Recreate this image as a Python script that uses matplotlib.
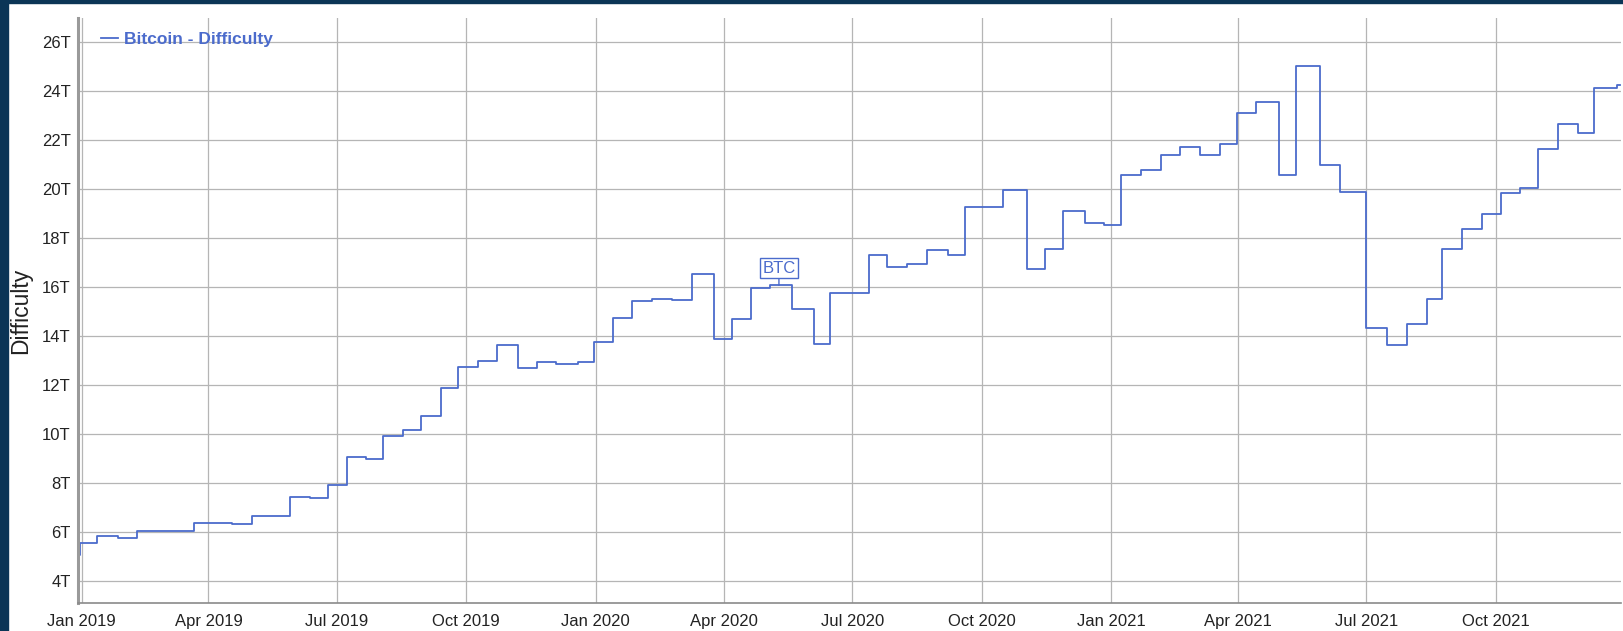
import numpy as np
import pandas as pd
import matplotlib
matplotlib.use("Agg")
import matplotlib.pyplot as plt
import matplotlib.dates as mdates
from matplotlib.patches import Rectangle

plt.rcParams['font.family'] = ['Liberation Sans', 'DejaVu Sans']

# difficulty adjustments (start date, value in T)
change_dates = ['2018-12-29', '2018-12-31',
                '2019-01-12', '2019-01-27', '2019-02-09', '2019-03-22', '2019-04-18', '2019-05-02',
                '2019-05-29', '2019-06-12', '2019-06-25', '2019-07-08', '2019-07-22', '2019-08-03',
                '2019-08-17', '2019-08-30', '2019-09-13', '2019-09-25', '2019-10-09', '2019-10-23',
                '2019-11-07', '2019-11-20', '2019-12-04', '2019-12-19', '2019-12-31',
                '2020-01-13', '2020-01-27', '2020-02-10', '2020-02-24', '2020-03-09', '2020-03-25',
                '2020-04-07', '2020-04-20', '2020-05-04', '2020-05-19', '2020-06-04', '2020-06-15',
                '2020-07-13', '2020-07-26', '2020-08-09', '2020-08-23', '2020-09-07', '2020-09-19',
                '2020-10-16', '2020-11-02', '2020-11-15', '2020-11-28', '2020-12-13', '2020-12-27',
                '2021-01-08', '2021-01-22', '2021-02-05', '2021-02-19', '2021-03-05', '2021-03-19',
                '2021-03-31', '2021-04-14', '2021-04-30', '2021-05-12', '2021-05-29', '2021-06-12',
                '2021-07-01', '2021-07-16', '2021-07-30', '2021-08-13', '2021-08-24', '2021-09-07',
                '2021-09-21', '2021-10-05', '2021-10-18', '2021-10-31', '2021-11-14', '2021-11-28',
                '2021-12-10', '2021-12-26', '2021-12-28']
difficulty = [5.05, 5.56,
              5.85, 5.77, 6.04, 6.35, 6.31, 6.67, 7.44, 7.38, 7.92, 9.05, 8.98, 9.93,
              10.15, 10.73, 11.87, 12.73, 12.99, 13.66, 12.71, 12.93, 12.85, 12.93, 13.77,
              14.75, 15.44, 15.51, 15.46, 16.55, 13.89, 14.69, 15.95, 16.08, 15.10, 13.70, 15.78,
              17.31, 16.83, 16.93, 17.54, 17.31, 19.28, 19.96, 16.76, 17.58, 19.12, 18.64, 18.56,
              20.60, 20.80, 21.39, 21.73, 21.42, 21.84, 23.11, 23.56, 20.57, 25.03, 21.01, 19.89,
              14.34, 13.63, 14.48, 15.54, 17.58, 18.37, 18.98, 19.85, 20.07, 21.63, 22.65, 22.31,
              24.15, 24.26, 24.26]
y_ticks = [4, 6, 8, 10, 12, 14, 16, 18, 20, 22, 24, 26]
btc_date = '2020-05-10'
btc_value = 16.08

line_color = '#4b6bcc'
border_color = '#0b3556'

dates = pd.to_datetime(change_dates)

fig = plt.figure(figsize=(16.23, 6.31), dpi=100, facecolor='white')
# dark frame on left and top
fig.patches.append(Rectangle((0, 0), 8 / 1623, 1, transform=fig.transFigure,
                             color=border_color, zorder=0))
fig.patches.append(Rectangle((0, 1 - 3 / 631), 1, 3 / 631, transform=fig.transFigure,
                             color=border_color, zorder=0))

ax = fig.add_axes([77.5 / 1623, 28 / 631, (1620.5 - 77.5) / 1623, (613 - 28) / 631])

ax.plot(dates, difficulty, drawstyle='steps-post', color=line_color, lw=1.3,
        label='Bitcoin - Difficulty')

ax.set_xlim(pd.Timestamp('2018-12-29'), pd.Timestamp('2021-12-28 12:00'))
ax.set_ylim(3.1, 27.0)
ax.set_yticks(y_ticks)
ax.set_yticklabels([f'{v}T' for v in y_ticks])
ax.xaxis.set_major_locator(mdates.MonthLocator(bymonth=[1, 4, 7, 10]))
ax.xaxis.set_major_formatter(mdates.DateFormatter('%b %Y'))

ax.grid(True, color='#b5b5b5', lw=0.9)
ax.set_axisbelow(True)
ax.tick_params(axis='both', length=0, labelsize=12, colors='#222222')
ax.tick_params(axis='y', pad=5)
ax.tick_params(axis='x', pad=8)

for side in ['top', 'right']:
    ax.spines[side].set_visible(False)
ax.spines['left'].set_color('#9a9a9a')
ax.spines['left'].set_linewidth(2.2)
ax.spines['bottom'].set_color('#8a8a8a')
ax.spines['bottom'].set_linewidth(1.2)

ax.set_ylabel('Difficulty', fontsize=16.5, color='#222222', labelpad=7)

leg = ax.legend(loc='upper left', bbox_to_anchor=(0.006, 1.0), frameon=False,
                handlelength=1.0, handletextpad=0.35, borderaxespad=0.4,
                prop={'weight': 'bold', 'size': 12.5})
for t in leg.get_texts():
    t.set_color(line_color)

ax.annotate('BTC', xy=(pd.Timestamp(btc_date), btc_value), xytext=(0, 7),
            textcoords='offset points', ha='center', va='bottom',
            fontsize=12, color=line_color,
            bbox=dict(boxstyle='square,pad=0.15', fc='white', ec=line_color, lw=1),
            arrowprops=dict(arrowstyle='-', color=line_color, lw=1, shrinkA=0, shrinkB=0))

fig.savefig('out.png', dpi=100, facecolor='white')
